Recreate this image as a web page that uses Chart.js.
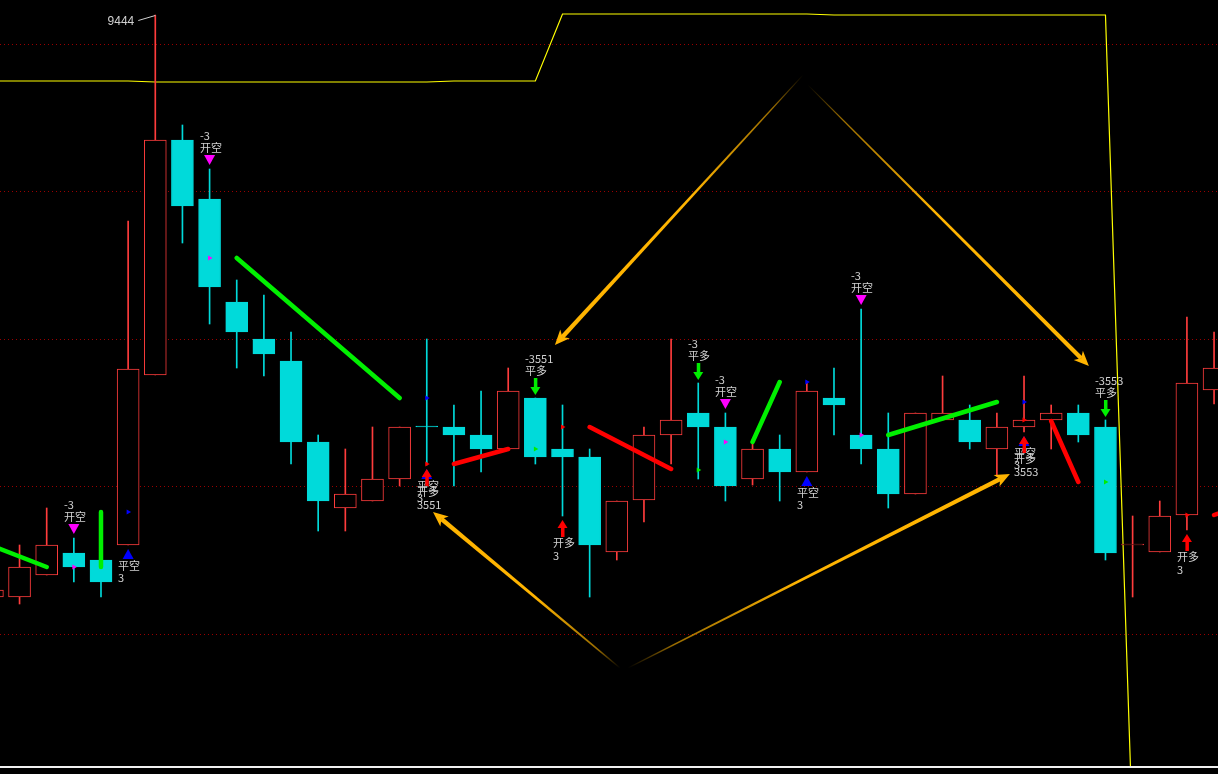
<!DOCTYPE html>
<html><head><meta charset="utf-8">
<script src="https://cdn.jsdelivr.net/npm/chart.js@4.4.1/dist/chart.umd.min.js"></script>
<style>
html,body{margin:0;padding:0;background:#000;overflow:hidden;}
#wrap{position:relative;width:1218px;height:774px;background:#000;}
</style></head><body>
<div id="wrap"><canvas id="chart"></canvas></div>
<script>
// ---------------- data ----------------
const candleIndex = [0,1,2,3,4,5,6,7,8,9,10,11,12,13,14,15,16,17,18,19,20,21,22,23,24,25,26,27,28,29,30,31,32,33,34,35,36,37,38,39,40,41,42,43,44,45];
const opens  = [8862,8862,8884,8906,8899,8914,9084,9319,9260,9157,9120,9098,9017,8951,8958,8980,9032,9032,9024,9010,9061,9010,9002,8907,8959,9024,9046,9032,8980,9010,8987,9061,9024,9010,8965,9039,9039,9010,9032,9039,9046,9032,8914,8907,8944,9069];
const highs  = [8869,8914,8951,8921,8899,9238,9444,9334,9290,9179,9164,9127,9024,9010,9032,9032,9120,9054,9068,9091,9061,9054,9010,8958,9032,9120,9076,9046,9019,9024,9077,9091,9150,9046,9046,9083,9054,9046,9083,9054,9054,9039,8943,8958,9142,9127];
const lows   = [8862,8855,8884,8877,8862,8914,9084,9216,9135,9091,9083,8995,8928,8928,8958,8973,8994,8973,8987,9010,8995,8943,8862,8899,8937,8995,8980,8958,8974,8958,8987,9024,8995,8951,8965,9039,9010,8984,9027,9010,9017,8899,8862,8907,8929,9055];
const closes = [8869,8892,8914,8892,8877,9090,9319,9253,9172,9127,9105,9017,8958,8965,8980,9032,9032,9024,9010,9068,9002,9002,8914,8958,9024,9039,9032,8973,9010,8987,9068,9054,9010,8965,9046,9046,9017,9032,9039,9046,9024,8906,8914,8943,9076,9091];
const yellowLine = [9378,9378,9378,9378,9378,9378,9377,9377,9377,9377,9377,9377,9377,9377,9377,9377,9377,9378,9378,9378,9378,9445,9445,9445,9445,9445,9445,9445,9445,9445,9445,9444,9444,9444,9444,9444,9444,9444,9444,9444,9444,9444,8627,null,null,null];
const gridLevels = [9415, 9267.5, 9120, 8972.5, 8825];

// trend segments (from candle, to candle, values)
const greenFrom = [0, 4, 9, 28, 33];
const greenTo   = [2, 4, 15, 29, 37];
const greenFromVal = [8913, 8947, 9201, 9017, 9024];
const greenToVal   = [8892, 8892, 9061, 9077, 9057];
const redFrom = [17, 22, 39, 45];
const redTo   = [19, 25, 40, 46];
const redFromVal = [8995, 9032, 9038, 8944];
const redToVal   = [9010, 8990, 8977, 8954];

// small flag markers
const markBlueIdx = [5, 16, 30, 38];       const markBlueVal = [8947, 9061, 9077, 9057];
const markMagentaIdx = [3, 8, 27, 32];     const markMagentaVal = [8892, 9201, 9017, 9024];
const markRedIdx = [16, 21, 38, 44];       const markRedVal = [8995, 9032, 9039, 8944];
const markGreenIdx = [20, 26, 41];         const markGreenVal = [9010, 8989, 8977];

// trade signals
const sigIdx  = [3, 5, 8, 16, 16, 20, 21, 26, 27, 30, 32, 38, 38, 41, 44];
const sigType = ['开空','平空','开空','平空','开多','平多','开多','平多','开空','平空','开空','平空','开多','平多','开多'];
const sigQty  = ['-3','3','-3','3','3551','-3551','3','-3','-3','3','-3','3','3553','-3553','3'];

// orange arrows
const arrowTailIdx = [29.86, 30.04, 23.12, 23.41];
const arrowTailVal = [9384, 9374, 8791, 8791];
const arrowHeadIdx = [20.72, 40.39, 16.23, 37.48];
const arrowHeadVal = [9114, 9093, 8947, 8985];

// ---------------- styles ----------------
const RED = '#ff3c3c', CYAN = '#00dada';
function isUp(i){
  if (closes[i] > opens[i]) return true;
  if (closes[i] < opens[i]) return false;
  return i > 0 && closes[i] > closes[i-1];
}
function segData(from, to, fv, tv){
  const out = [];
  from.forEach((f,k)=>{
    out.push({x:f, y:fv[k]}); out.push({x:to[k], y:tv[k]}); out.push({x:to[k], y:null});
  });
  return out;
}
function pts(ix, vals){ return ix.map((x,k)=>({x, y:vals[k]})); }

const overlay = {
  id:'overlay',
  afterDatasetsDraw(chart){
    const ctx = chart.ctx, xs = chart.scales.x, ys = chart.scales.y, ca = chart.chartArea;
    ctx.save();
    // orange arrows
    arrowTailIdx.forEach((t,k)=>{
      const x0 = xs.getPixelForValue(t), y0 = ys.getPixelForValue(arrowTailVal[k]);
      const x1 = xs.getPixelForValue(arrowHeadIdx[k]), y1 = ys.getPixelForValue(arrowHeadVal[k]);
      const dx=x1-x0, dy=y1-y0, len=Math.hypot(dx,dy), ux=dx/len, uy=dy/len, nx=-uy, ny=ux;
      const headLen=15, headW=6.5;
      const bx=x1-ux*headLen, by=y1-uy*headLen;
      const g = ctx.createLinearGradient(x0,y0,x1,y1);
      g.addColorStop(0,'rgba(255,180,0,0)');
      g.addColorStop(0.12,'rgba(255,180,0,0.6)');
      g.addColorStop(0.45,'rgba(255,180,0,1)');
      g.addColorStop(1,'rgba(255,180,0,1)');
      ctx.fillStyle=g;
      const w0=0.5, w1=2.2;
      ctx.beginPath();
      ctx.moveTo(x0+nx*w0,y0+ny*w0); ctx.lineTo(bx+nx*w1+ux*4,by+ny*w1+uy*4);
      ctx.lineTo(bx-nx*w1+ux*4,by-ny*w1+uy*4); ctx.lineTo(x0-nx*w0,y0-ny*w0);
      ctx.closePath(); ctx.fill();
      ctx.fillStyle='#ffb400';
      ctx.beginPath();
      ctx.moveTo(x1,y1); ctx.lineTo(bx+nx*headW,by+ny*headW);
      ctx.lineTo(bx+ux*4,by+uy*4); ctx.lineTo(bx-nx*headW,by-ny*headW);
      ctx.closePath(); ctx.fill();
    });
    // signals
    ctx.font = '11px "Noto Sans CJK SC", sans-serif';
    ctx.textBaseline = 'middle'; ctx.textAlign = 'left';
    sigIdx.forEach((ci,k)=>{
      const x = xs.getPixelForValue(ci);
      const yH = ys.getPixelForValue(highs[ci]);
      const yL = ys.getPixelForValue(lows[ci]);
      const left = Math.round(x - 10);
      const t = sigType[k], q = sigQty[k];
      ctx.fillStyle = '#d2d2d2';
      if (t === '开空') {
        ctx.fillText(q, left, yH-33); ctx.fillText(t, left, yH-21);
        ctx.fillStyle = '#ff00ff';
        ctx.beginPath(); ctx.moveTo(x-5.5, yH-14); ctx.lineTo(x+5.5, yH-14); ctx.lineTo(x, yH-4); ctx.closePath(); ctx.fill();
      } else if (t === '平空') {
        ctx.fillStyle = '#0000ff';
        ctx.beginPath(); ctx.moveTo(x-5.5, yL+14); ctx.lineTo(x+5.5, yL+14); ctx.lineTo(x, yL+4); ctx.closePath(); ctx.fill();
        ctx.fillStyle = '#d2d2d2';
        ctx.fillText(t, left, yL+21); ctx.fillText(q, left, yL+33);
      } else if (t === '平多') {
        ctx.fillText(q, left, yH-39); ctx.fillText(t, left, yH-27);
        ctx.fillStyle = '#00ee00';
        ctx.fillRect(x-1.5, yH-20, 3.5, 10);
        ctx.beginPath(); ctx.moveTo(x-5, yH-11); ctx.lineTo(x+5, yH-11); ctx.lineTo(x, yH-3); ctx.closePath(); ctx.fill();
      } else if (t === '开多') {
        ctx.fillStyle = '#ff0000';
        ctx.beginPath(); ctx.moveTo(x-5, yL+12); ctx.lineTo(x+5, yL+12); ctx.lineTo(x, yL+4); ctx.closePath(); ctx.fill();
        ctx.fillRect(x-1.5, yL+11, 3.5, 10);
        ctx.fillStyle = '#d2d2d2';
        ctx.fillText(t, left, yL+27); ctx.fillText(q, left, yL+40);
      }
    });
    // max-high label
    let mi = 0; highs.forEach((h,i)=>{ if (h > highs[mi]) mi = i; });
    const hx = xs.getPixelForValue(mi), hy = ys.getPixelForValue(highs[mi]);
    ctx.strokeStyle = '#d0d0d0'; ctx.lineWidth = 1;
    ctx.beginPath(); ctx.moveTo(hx-17, hy+5.5); ctx.lineTo(hx, hy+0.5); ctx.stroke();
    ctx.font = '12px "Liberation Sans", sans-serif';
    ctx.fillStyle = '#d0d0d0'; ctx.textAlign = 'right';
    ctx.fillText(String(highs[mi]), hx-21, hy+7);
    // bottom axis line
    ctx.strokeStyle = '#f0f0f0'; ctx.lineWidth = 2;
    ctx.beginPath(); ctx.moveTo(ca.left, ca.bottom); ctx.lineTo(ca.right, ca.bottom); ctx.stroke();
    ctx.restore();
  }
};

new Chart(document.getElementById('chart'), {
  type: 'bar',
  data: {
    datasets: [
      { type:'scatter', label:'mb', data: pts(markBlueIdx, markBlueVal), order:0,
        pointStyle:'triangle', rotation:90, radius:3, hoverRadius:3, backgroundColor:'#0000ff', borderWidth:0 },
      { type:'scatter', label:'mm', data: pts(markMagentaIdx, markMagentaVal), order:0,
        pointStyle:'triangle', rotation:90, radius:3, hoverRadius:3, backgroundColor:'#ff00ff', borderWidth:0 },
      { type:'scatter', label:'mr', data: pts(markRedIdx, markRedVal), order:0,
        pointStyle:'triangle', rotation:90, radius:3, hoverRadius:3, backgroundColor:'#ff0000', borderWidth:0 },
      { type:'scatter', label:'mg', data: pts(markGreenIdx, markGreenVal), order:0,
        pointStyle:'triangle', rotation:90, radius:3, hoverRadius:3, backgroundColor:'#00ee00', borderWidth:0 },
      { type:'line', label:'green', data: segData(greenFrom, greenTo, greenFromVal, greenToVal), order:1,
        borderColor:'#00f000', borderWidth:4.5, pointRadius:0, spanGaps:false, tension:0, borderCapStyle:'round' },
      { type:'line', label:'red', data: segData(redFrom, redTo, redFromVal, redToVal), order:1,
        borderColor:'#ff0000', borderWidth:4.5, pointRadius:0, spanGaps:false, tension:0, borderCapStyle:'round' },
      { type:'bar', label:'body', order:3, grouped:false, barThickness:22, minBarLength:1,
        data: candleIndex.map(i=>({x:i, y:[opens[i], closes[i]]})),
        backgroundColor: c => isUp(c.dataIndex) ? '#000000' : CYAN,
        borderColor: c => isUp(c.dataIndex) ? RED : CYAN,
        borderWidth: 1, borderSkipped: false },
      { type:'bar', label:'wick', order:4, grouped:false, barThickness:1,
        data: candleIndex.map(i=>({x:i, y:[lows[i], highs[i]]})),
        backgroundColor: c => isUp(c.dataIndex) ? RED : CYAN, borderWidth:0 },
      { type:'line', label:'yellow', order:5,
        data: candleIndex.map(i=>({x:i, y:yellowLine[i]})),
        borderColor:'#ffff00', borderWidth:1.2, pointRadius:0, tension:0, spanGaps:false }
    ]
  },
  options: {
    responsive:true, maintainAspectRatio:false, animation:false, devicePixelRatio:1,
    layout:{ autoPadding:false, padding:{ left:0, right:0, top:0, bottom:7 } },
    plugins:{ legend:{display:false}, tooltip:{enabled:false} },
    scales:{
      x:{ type:'linear', min:0.28, max:45.145, offset:false, display:false },
      y:{ type:'linear', min:8692, max:9459, display:true,
          afterBuildTicks: s => { s.ticks = gridLevels.map(v=>({value:v})); },
          ticks:{ display:false },
          grid:{ color:'#9a0000', lineWidth:1, drawTicks:false },
          border:{ display:false, dash:[1,3] } }
    }
  },
  plugins:[overlay]
});
</script>
</body></html>
